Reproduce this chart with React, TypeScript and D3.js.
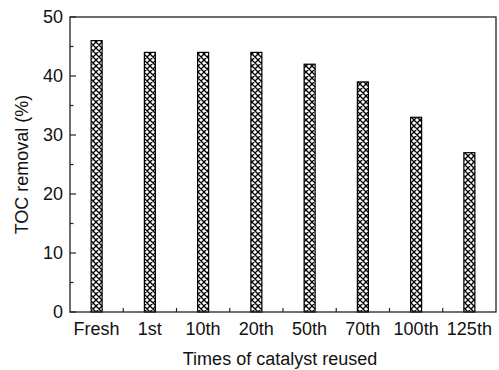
import React from "react";
import * as d3 from "d3";

const categories = ["Fresh", "1st", "10th", "20th", "50th", "70th", "100th", "125th"];
const tocRemoval = [46, 44, 44, 44, 42, 39, 33, 27];
const yTicks = [0, 10, 20, 30, 40, 50];
const yMinorTicks = [5, 15, 25, 35, 45];

const W = 499;
const H = 370;
const margin = { top: 17, right: 3, bottom: 58, left: 70 };
const font = "'Liberation Sans', Arial, Helvetica, sans-serif";
const fs = 18;

export default function App() {
  const x = d3
    .scaleBand<string>()
    .domain(categories)
    .range([margin.left, W - margin.right])
    .paddingInner(0)
    .paddingOuter(0);
  const y = d3
    .scaleLinear()
    .domain([0, 50])
    .range([H - margin.bottom, margin.top]);

  const barW = 11;
  const x0 = margin.left;
  const x1 = W - margin.right;
  const y0 = H - margin.bottom;
  const y1 = margin.top;
  const bw = x.bandwidth();

  // boundaries between bands get small inward ticks
  const boundaries = categories.slice(1).map((c) => x(c)!);

  return (
    <svg
      width={W}
      height={H}
      style={{ position: "absolute", left: 0, top: 0, display: "block", background: "#fff" }}
    >
      <defs>
        <pattern id="xhatch" width={6} height={6} patternUnits="userSpaceOnUse">
          <rect width={6} height={6} fill="#fff" />
          <path d="M0,0 L6,6 M6,0 L0,6 M-1,5 L1,7 M5,-1 L7,1 M-1,1 L1,-1 M5,7 L7,5" stroke="#000" strokeWidth={1.3} />
        </pattern>
      </defs>

      {/* bars */}
      {categories.map((c, i) => (
        <rect
          key={c}
          x={x(c)! + bw / 2 - barW / 2}
          y={y(tocRemoval[i])}
          width={barW}
          height={y0 - y(tocRemoval[i])}
          fill="url(#xhatch)"
          stroke="#000"
          strokeWidth={1.2}
        />
      ))}

      {/* frame */}
      <rect x={x0} y={y1} width={x1 - x0} height={y0 - y1} fill="none" stroke="#222" strokeWidth={1.3} />

      {/* y ticks */}
      {yTicks.map((t) => (
        <g key={t}>
          <line x1={x0} x2={x0 + 6} y1={y(t)} y2={y(t)} stroke="#222" strokeWidth={1.2} />
          <text x={x0 - 7} y={y(t)} dy="0.36em" textAnchor="end" fontFamily={font} fontSize={fs} fill="#111">
            {t}
          </text>
        </g>
      ))}
      {yMinorTicks.map((t) => (
        <line key={t} x1={x0} x2={x0 + 3.5} y1={y(t)} y2={y(t)} stroke="#222" strokeWidth={1.2} />
      ))}

      {/* x ticks */}
      {boundaries.map((b, i) => (
        <line key={i} x1={b} x2={b} y1={y0} y2={y0 - 4} stroke="#222" strokeWidth={1.2} />
      ))}
      {categories.map((c) => (
        <text key={c} x={x(c)! + bw / 2} y={335} textAnchor="middle" fontFamily={font} fontSize={fs} fill="#111">
          {c}
        </text>
      ))}

      {/* axis titles */}
      <text x={(x0 + x1) / 2 - 3} y={365} textAnchor="middle" fontFamily={font} fontSize={fs} fill="#111">
        Times of catalyst reused
      </text>
      <text
        transform={`translate(28,${(y0 + y1) / 2}) rotate(-90)`}
        textAnchor="middle"
        fontFamily={font}
        fontSize={fs}
        fill="#111"
      >
        TOC removal (%)
      </text>
    </svg>
  );
}
